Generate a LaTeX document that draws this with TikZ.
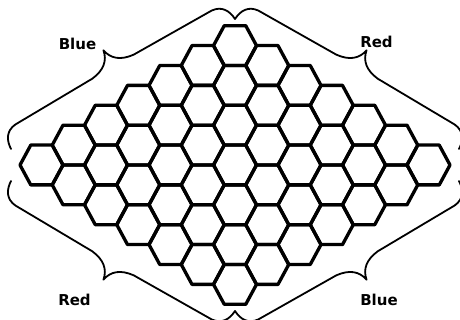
\documentclass[tikz,border=0pt]{standalone}
\usepackage{fontspec}
\newfontfamily\lblfont{DejaVu Sans}
\tikzset{
  hexcell/.style={draw=black, line width=3.3pt, line join=round},
  bracestyle/.style={draw=black, line width=1.8pt, line cap=round, line join=round},
  lbl/.style={font=\lblfont\bfseries\fontsize{15}{18}\selectfont, inner sep=0pt}
}
\newcommand{\hexbrace}[3]{%
  \begin{scope}[shift={#1},rotate=#2]
    \draw[bracestyle] (0,0) .. controls (0.5,10) and (5,18) .. (16,19)
      -- ({#3/2-24},20) .. controls ({#3/2-10},21.5) and ({#3/2-2},28) .. ({#3/2},39)
      .. controls ({#3/2+2},28) and ({#3/2+10},21.5) .. ({#3/2+24},20)
      -- ({#3-16},19) .. controls ({#3-5},18) and ({#3-0.5},10) .. (#3,0);
  \end{scope}}
\begin{document}
\begin{tikzpicture}[x=1pt,y=1pt]
  \useasboundingbox (0,0) rectangle (460,320);
  \clip (0,0) rectangle (460,320);
  % hex board 7x7
  \foreach \i in {0,...,6}{
    \foreach \j in {0,...,6}{
      \pgfmathsetmacro{\cx}{235+(\j-\i)*32.25}
      \pgfmathsetmacro{\cy}{155+(6-\i-\j)*19.9}
      \draw[hexcell] (\cx-21.5,\cy) -- ++(10.75,19.9) -- ++(21.5,0) -- ++(10.75,-19.9)
        -- ++(-10.75,-19.9) -- ++(-21.5,0) -- cycle;
    }
  }
  % braces
  \hexbrace{(11,171)}{30.13}{259.0}
  \hexbrace{(235,301)}{-30.13}{259.0}
  \hexbrace{(459,139)}{210.13}{259.0}
  \hexbrace{(235,9)}{149.87}{259.0}
  % labels
  \node[lbl] (blueTL) at (77.5,276.5) {Blue};
  \node[lbl] (redTR) at (376.5,278) {Red};
  \node[lbl] (redBL) at (74.5,20) {Red};
  \node[lbl] (blueBR) at (379,20) {Blue};
\end{tikzpicture}
\end{document}
